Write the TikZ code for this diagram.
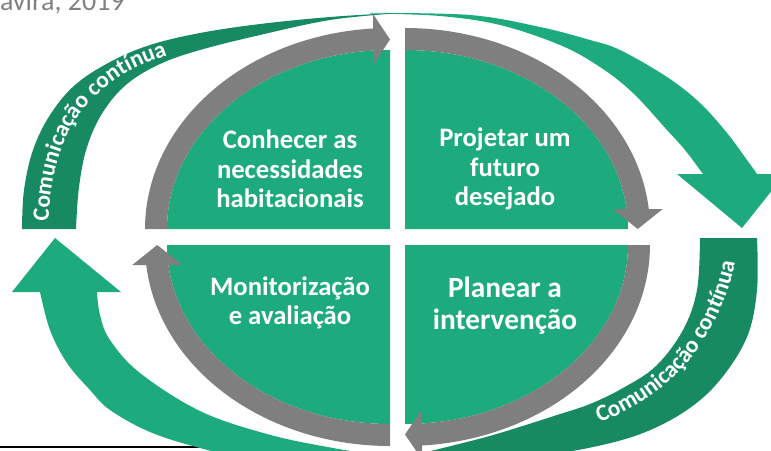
\documentclass[tikz,border=0pt]{standalone}
\usepackage{fontspec}
\setmainfont{Carlito}
\usetikzlibrary{decorations.text}
\definecolor{lgreen}{RGB}{29,170,125}
\definecolor{dgreen}{RGB}{24,138,98}
\definecolor{bandgray}{RGB}{127,127,127}
\definecolor{capgray}{RGB}{128,128,128}
\begin{document}
\begin{tikzpicture}[x=0.75pt,y=-0.75pt,
  quadtext/.style={text=white, font=\bfseries\fontsize{20}{22}\selectfont, align=center, inner sep=0pt},
  bigtext/.style={text=white, font=\bfseries\fontsize{22}{24}\selectfont, align=center, inner sep=0pt},
  curvetext/.style={decorate, decoration={text along path, text align={left indent=#1},
     text={|\bfseries\fontsize{17.5}{17.5}\selectfont\color{white}|Comunicação contínua}}}]
\useasboundingbox (0,0) rectangle (771,450);
\clip (0,0) rectangle (771,450);

% caption remnant and footnote rule
\node[text=capgray, font=\fontsize{21}{23}\selectfont, anchor=base east, inner sep=0pt] (cap) at (125,10) {avira, 2019};
\draw[line width=1.5pt] (0,447) -- (203,447);

% ---- outer arrows ----
% upper light arrow
\fill[lgreen] plot[smooth,tension=0.6] coordinates {(370,13) (470,15) (540,27) (590,40) (620,50) (667,77) (700,103) (727,133) (747,160) (757,174)}
  -- (785,174) -- (742,228) -- (677,174) -- (703,174)
  -- plot[smooth,tension=0.6] coordinates {(703,174) (685,150) (667,130) (633,93) (600,67) (560,45) (500,25) (440,16) (370,13.5)} -- cycle;
% upper dark band
\fill[dgreen] plot[smooth,tension=0.6] coordinates {(22,229) (24,190) (33,150) (50,115) (75,85) (110,62) (150,45) (200,33) (260,24) (330,17) (394,13)}
  -- plot[smooth,tension=0.6] coordinates {(394,13.5) (330,20) (260,35) (200,50) (160,64) (127,84) (103,112) (87,147) (79,187) (76,229)} -- cycle;
\path[curvetext=6pt] plot[smooth,tension=0.6] coordinates {(48,229) (52,185) (63,145) (85,108) (118,78) (160,58) (210,44) (260,36) (330,28)};

% lower light arrow
\fill[lgreen] plot[smooth,tension=0.6] coordinates {(420,462) (333,448) (267,434) (200,411) (140,373) (110,340) (100,315) (97,292)}
  -- (121,292) -- (55,238) -- (12,292) -- (40,292)
  -- plot[smooth,tension=0.6] coordinates {(40,292) (50,330) (67,363) (90,390) (110,410) (150,432) (200,448) (260,462) (330,472)} -- cycle;
% lower dark band
\fill[dgreen] plot[smooth,tension=0.6] coordinates {(700,238) (697,290) (683,330) (656,366) (623,388) (590,404) (557,415) (500,433) (463,443) (410,456)}
  -- plot[smooth,tension=0.6] coordinates {(410,458) (470,458) (540,455) (593,447) (643,433) (687,410) (720,380) (747,337) (757,290) (757,238)} -- cycle;
\path[curvetext=26pt] plot[smooth,tension=0.6] coordinates {(566,432) (606,420) (643,401) (676,375) (702,343) (721,307) (733,272) (738,238)};

% ---- quadrants ----
\fill[lgreen] (390,229) -- plot[domain=180:270,samples=60] ({390+223*cos(\x)},{229+179*sin(\x)}) -- cycle;
\fill[lgreen] (405,229) -- plot[domain=270:360,samples=60] ({405+223*cos(\x)},{229+179*sin(\x)}) -- cycle;
\fill[lgreen] (405,245) -- plot[domain=0:90,samples=60] ({405+223*cos(\x)},{245+179*sin(\x)}) -- cycle;
\fill[lgreen] (390,245) -- plot[domain=90:180,samples=60] ({390+223*cos(\x)},{245+179*sin(\x)}) -- cycle;

% ---- gray cycle arrows ----
\fill[bandgray] plot[domain=180:266.02,samples=60] ({390+245*cos(\x)},{229+201*sin(\x)})
  -- (373,14) -- (390,39.5) -- (373,65)
  -- plot[domain=265.63:180,samples=60] ({390+223*cos(\x)},{229+179*sin(\x)}) -- cycle;
\fill[bandgray] plot[domain=270:354.29,samples=60] ({405+245*cos(\x)},{229+201*sin(\x)})
  -- (662.7,209) -- (637.7,229) -- (612.7,209)
  -- plot[domain=353.59:270,samples=60] ({405+223*cos(\x)},{229+179*sin(\x)}) -- cycle;
\fill[bandgray] plot[domain=0:86.02,samples=60] ({405+245*cos(\x)},{245+201*sin(\x)})
  -- (422,459.5) -- (405,434.5) -- (422,409.5)
  -- plot[domain=85.63:0,samples=60] ({405+223*cos(\x)},{245+179*sin(\x)}) -- cycle;
\fill[bandgray] plot[domain=90:174.29,samples=60] ({390+245*cos(\x)},{245+201*sin(\x)})
  -- (132.3,265) -- (157.3,245) -- (182.3,265)
  -- plot[domain=173.59:90,samples=60] ({390+223*cos(\x)},{245+179*sin(\x)}) -- cycle;

% ---- texts ----
\node[quadtext] (q1) at (290,169) {Conhecer as\\necessidades\\habitacionais};
\node[quadtext] (q2) at (505,169) {Projetar um\\futuro\\desejado};
\node[quadtext] (q4) at (290,303) {Monitorização\\e avaliação};
\node[bigtext] (q3) at (505,306) {Planear a\\intervenção};
\end{tikzpicture}
\end{document}
